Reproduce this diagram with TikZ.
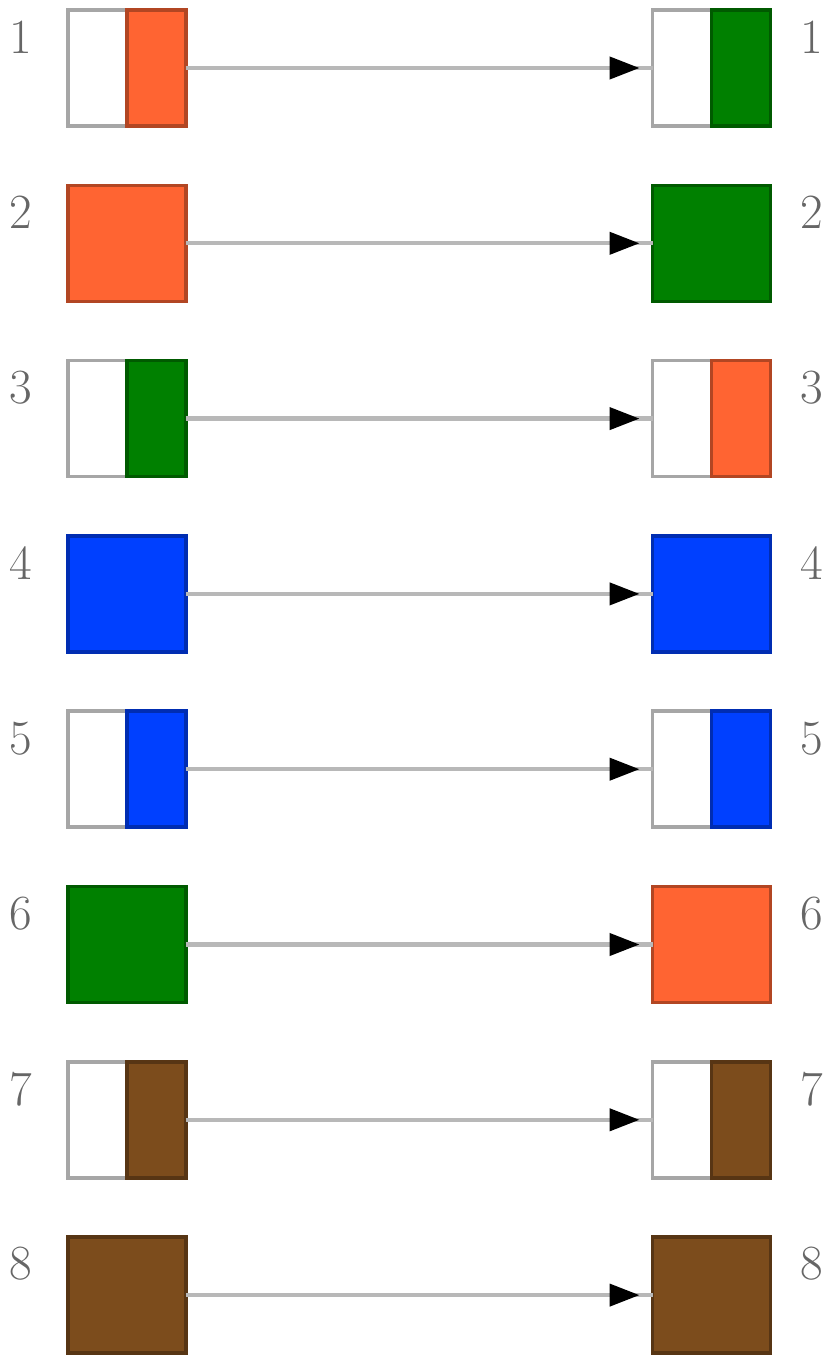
\documentclass[tikz,border=0pt]{standalone}
\usetikzlibrary{arrows.meta,calc}
\definecolor{pinorange}{RGB}{255,100,50}
\definecolor{pingreen}{RGB}{0,128,0}
\definecolor{pinblue}{RGB}{0,64,255}
\definecolor{pinbrown}{RGB}{124,76,28}

\begin{document}
\begin{tikzpicture}[x=0.02cm, y=-0.02cm,
    pin/.style={draw=black!35, fill=white, line width=2pt, minimum width=2.36cm,
                minimum height=2.32cm, inner sep=0pt, outer sep=0pt},
    wire/.style={black!28, line width=2.4pt},
    num/.style={font=\fontsize{28}{28}\selectfont, text=black!60}]
  \useasboundingbox (0,0) rectangle (827,1362);

  % pin / left colour / left split / right colour / right split
  \foreach \i/\lc/\lf/\rc/\rf in {
    1/pinorange/0.5/pingreen/0.5, 2/pinorange/0/pingreen/0,
    3/pingreen/0.5/pinorange/0.5, 4/pinblue/0/pinblue/0,
    5/pinblue/0.5/pinblue/0.5,    6/pingreen/0/pinorange/0,
    7/pinbrown/0.5/pinbrown/0.5,  8/pinbrown/0/pinbrown/0} {
    \pgfmathsetmacro{\yc}{68+(\i-1)*175.3}
    \node[pin] (l\i) at (127,\yc) {};
    \node[pin] (r\i) at (711.5,\yc) {};
    \draw[line width=2pt, fill=\lc, draw=\lc!70!black]
      ($(l\i.north west)!\lf!(l\i.north east)$) rectangle (l\i.south east);
    \draw[line width=2pt, fill=\rc, draw=\rc!70!black]
      ($(r\i.north west)!\rf!(r\i.north east)$) rectangle (r\i.south east);
    \node[num] (nl\i) at (21,\yc-31) {\i};
    \node[num] (nr\i) at (812,\yc-31) {\i};
    \draw[wire] (l\i.east) -- (r\i.west);
    \draw[wire, -{Triangle[color=black, length=0.6cm, width=0.44cm]}, shorten >=0.26cm]
      (l\i.east) -- (r\i.west);
  }
\end{tikzpicture}
\end{document}
